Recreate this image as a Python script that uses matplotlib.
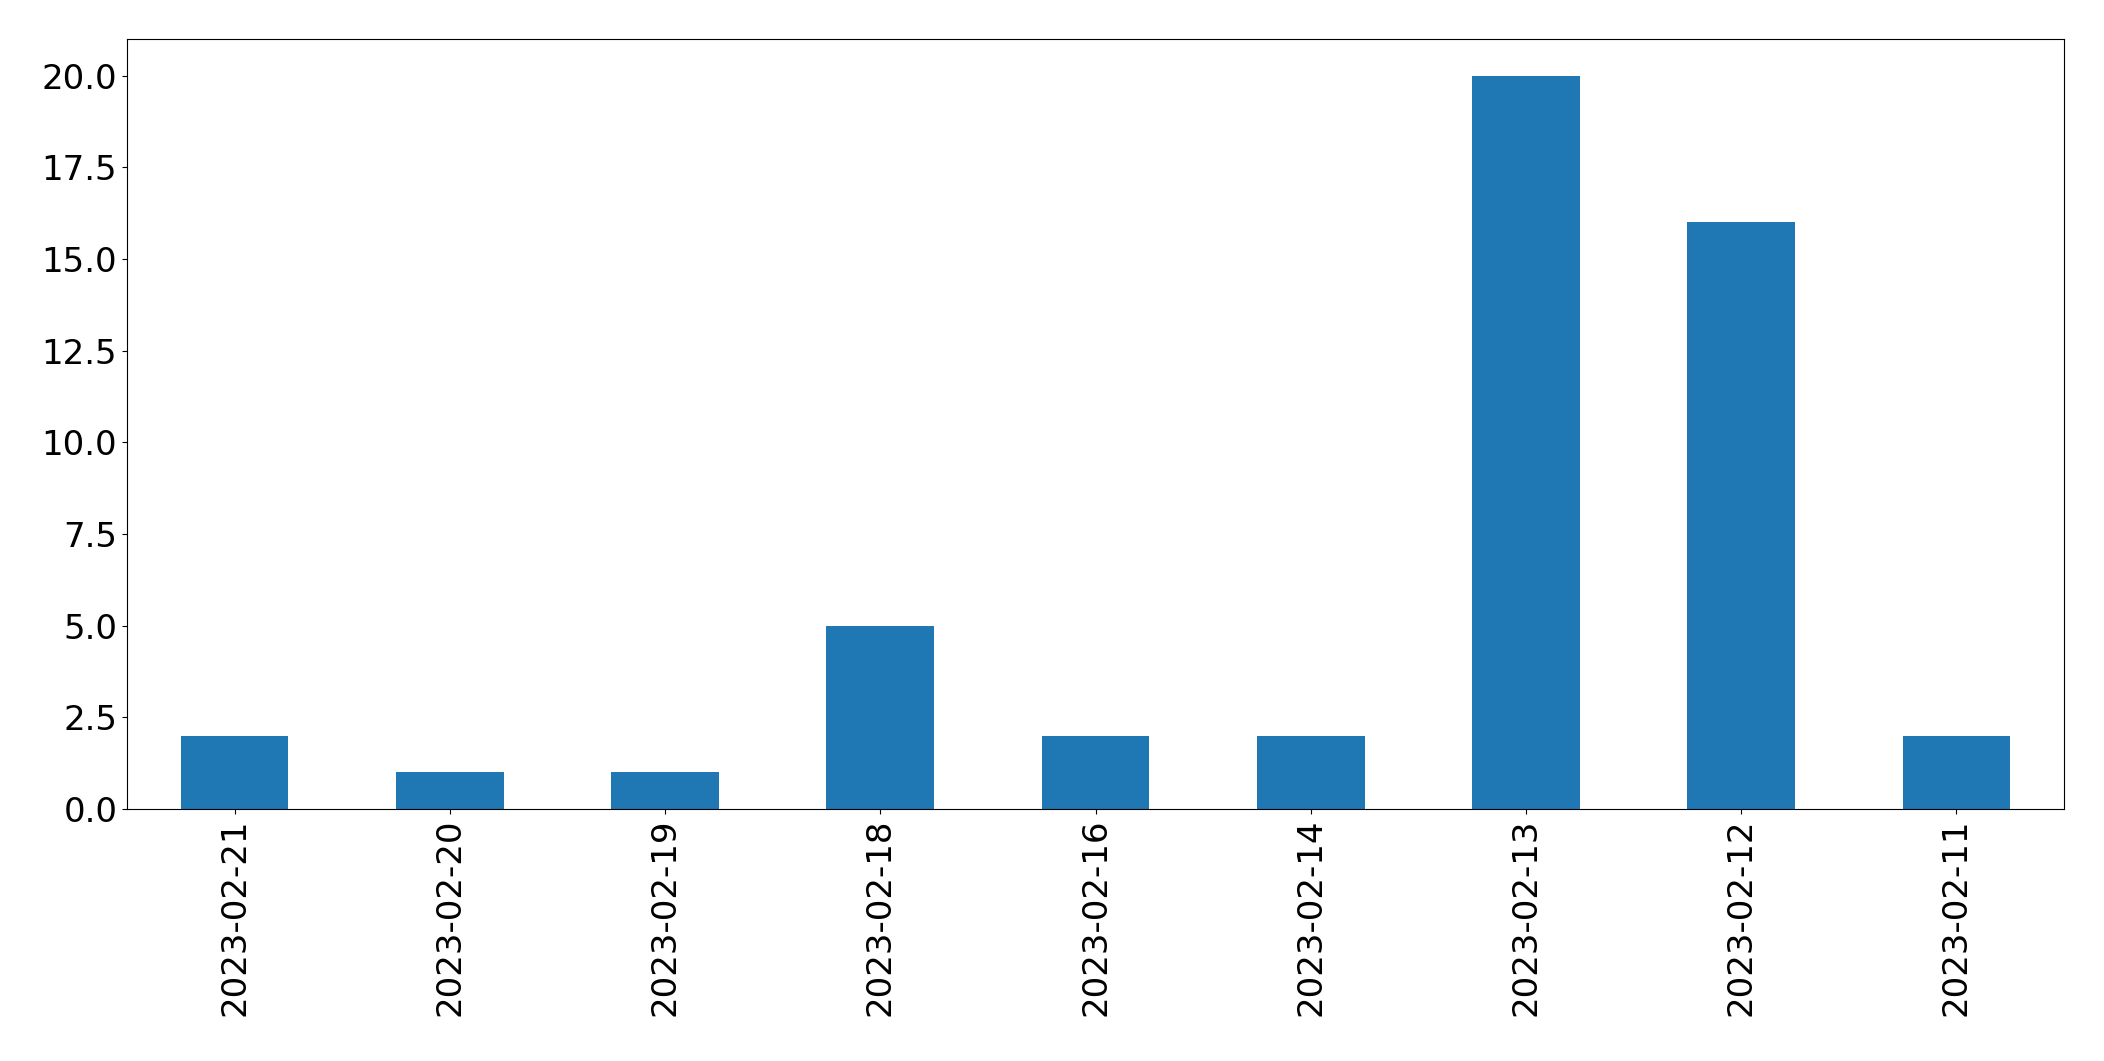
import pandas as pd
import matplotlib
matplotlib.use("Agg")
import matplotlib.pyplot as plt

dates = ["2023-02-21", "2023-02-20", "2023-02-19", "2023-02-18", "2023-02-16",
         "2023-02-14", "2023-02-13", "2023-02-12", "2023-02-11"]
counts = [2, 1, 1, 5, 2, 2, 20, 16, 2]

s = pd.Series(counts, index=dates)

fig = plt.figure(figsize=(21.04, 10.61), dpi=100)
ax = fig.add_axes([127 / 2104, 1 - 809 / 1061, (2064 - 127) / 2104, (809 - 39) / 1061])
s.plot(kind="bar", ax=ax, color="#1f77b4")
ax.tick_params(labelsize=24.5)

fig.savefig("out.png", dpi=100)
